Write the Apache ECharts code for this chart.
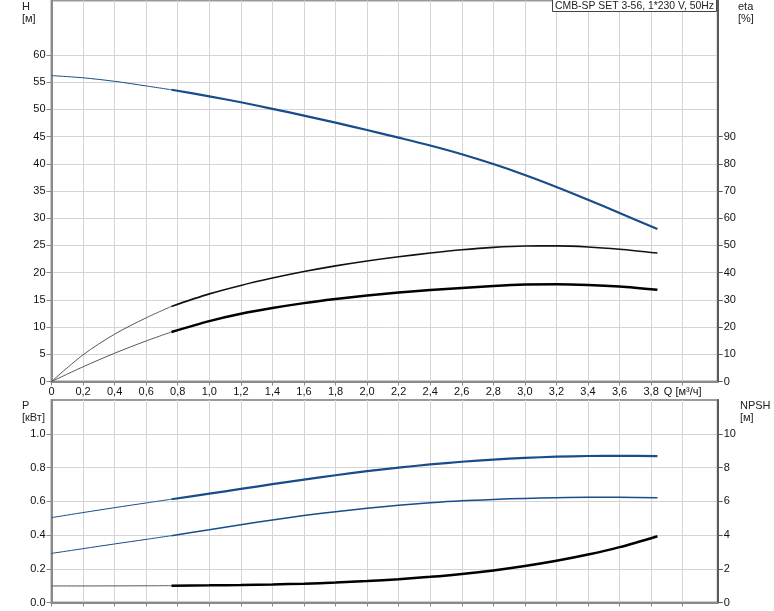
<!DOCTYPE html>
<html>
<head>
<meta charset="utf-8">
<script src="https://cdn.jsdelivr.net/npm/echarts@6/dist/echarts.min.js"></script>
<style>
html,body{margin:0;padding:0;background:#fff;}
#c{width:774px;height:611px;}
</style>
</head>
<body>
<div id="c"></div>
<script>
// ---- data ----
const Q     = [0, 0.2, 0.4, 0.6, 0.76, 1.0, 1.2, 1.4, 1.6, 1.8, 2.0, 2.2, 2.4, 2.6, 2.8, 3.0, 3.2, 3.4, 3.6, 3.84];
const H     = [56.2, 55.8, 55.15, 54.3, 53.6, 52.4, 51.3, 50.1, 48.85, 47.55, 46.2, 44.8, 43.35, 41.75, 39.95, 37.95, 35.75, 33.4, 30.95, 28.0];
const ETA1  = [0, 9.8, 17.4, 23.4, 27.6, 32.2, 35.3, 38.0, 40.4, 42.5, 44.3, 45.85, 47.2, 48.4, 49.3, 49.8, 49.85, 49.45, 48.6, 47.2];
const ETA2  = [0, 5.4, 10.4, 14.9, 18.2, 22.2, 24.9, 27.0, 28.8, 30.3, 31.6, 32.7, 33.6, 34.4, 35.1, 35.6, 35.75, 35.5, 34.9, 33.7];
const P1    = [0.503, 0.533, 0.562, 0.590, 0.612, 0.645, 0.673, 0.701, 0.728, 0.754, 0.778, 0.799, 0.818, 0.834, 0.847, 0.857, 0.864, 0.868, 0.869, 0.867];
const P2    = [0.291, 0.319, 0.347, 0.374, 0.396, 0.431, 0.461, 0.489, 0.515, 0.538, 0.558, 0.576, 0.591, 0.603, 0.611, 0.617, 0.621, 0.623, 0.623, 0.621];
const NPSH  = [0.98, 0.98, 0.985, 0.99, 1.0, 1.015, 1.035, 1.07, 1.115, 1.18, 1.27, 1.38, 1.52, 1.69, 1.90, 2.16, 2.47, 2.84, 3.28, 3.93];
const SPLIT = 4; // index where the operating range (thick line) starts
const Q_TICKS    = [0, 0.2, 0.4, 0.6, 0.8, 1.0, 1.2, 1.4, 1.6, 1.8, 2.0, 2.2, 2.4, 2.6, 2.8, 3.0, 3.2, 3.4, 3.6, 3.8, 4.0];
const H_TICKS    = [0, 5, 10, 15, 20, 25, 30, 35, 40, 45, 50, 55, 60];
const ETA_TICKS  = [0, 10, 20, 30, 40, 50, 60, 70, 80, 90];
const P_TICKS    = [0, 0.2, 0.4, 0.6, 0.8, 1.0];
const NPSH_TICKS = [0, 2, 4, 6, 8, 10];
const TITLE = 'CMB-SP SET 3-56, 1*230 V, 50Hz';
const Q_LABEL = 'Q [м³/ч]';

// ---- helpers ----
function pts(vals, from, to, lastLabel) {
  const out = [];
  for (let i = from; i <= to; i++) out.push([Q[i], vals[i]]);
  if (lastLabel) {
    const last = out.pop();
    out.push({ value: last, label: lastLabel });
  }
  return out;
}
const N = Q.length - 1;
const FONT = 'Liberation Sans, Arial, sans-serif';
const BLUE = '#164d8a';
const GRIDC = '#d4d4d4';

function xAxis(gi, showLabels) {
  return {
    type: 'value', gridIndex: gi, min: 0, max: 4.222, interval: 0.2,
    axisLine: { show: true, onZero: false, lineStyle: { color: '#8a8a8a', width: 2 } },
    axisTick: { show: true, length: 4, customValues: Q_TICKS, lineStyle: { color: '#8a8a8a' } },
    axisLabel: {
      show: showLabels, margin: 5, customValues: Q_TICKS, color: '#111', fontSize: 11, fontFamily: FONT,
      formatter: v => {
        if (Math.abs(v - 4.0) < 1e-6) return Q_LABEL;
        return v === 0 ? '0' : v.toFixed(1).replace('.', ',');
      }
    },
    splitLine: { show: true, lineStyle: { color: GRIDC, width: 1 } }
  };
}
function yAxis(gi, pos, min, max, interval, ticks, fmt, split, lineColor) {
  return {
    type: 'value', gridIndex: gi, position: pos, min, max, interval,
    axisLine: { show: true, onZero: false, lineStyle: { color: lineColor, width: 2 } },
    axisTick: { show: true, length: 5, customValues: ticks, lineStyle: { color: lineColor } },
    axisLabel: {
      margin: 6, color: '#111', fontSize: 11, fontFamily: FONT, customValues: ticks,
      formatter: v => fmt(v)
    },
    splitLine: { show: split, lineStyle: { color: GRIDC, width: 1 } }
  };
}
function line(xi, yi, data, color, width, z) {
  return {
    type: 'line', xAxisIndex: xi, yAxisIndex: yi, data, smooth: 0.3,
    showSymbol: false, symbol: 'none', silent: true, z: z || 3,
    lineStyle: { color, width }, animation: false
  };
}

const txt = (s, x, y, align) => ({
  type: 'text', left: x, top: y,
  style: { text: s, fill: '#222', font: '11px ' + FONT, textAlign: align || 'center' }
});

const chart = echarts.init(document.getElementById('c'), null, { renderer: 'canvas' });
chart.setOption({
  animation: false,
  backgroundColor: '#fff',
  title: {
    text: TITLE, right: 57, top: -1, padding: [2, 3, 1, 3],
    borderWidth: 1, borderColor: '#444', backgroundColor: '#fff',
    textStyle: { fontSize: 10.4, fontWeight: 'normal', color: '#222', fontFamily: FONT }
  },
  grid: [
    { left: 51.5, right: 56.3, top: 0.5, height: 381, show: true, borderColor: '#9a9a9a', borderWidth: 2 },
    { left: 51.5, right: 56.3, top: 400, height: 202.5, show: true, borderColor: '#9a9a9a', borderWidth: 2 }
  ],
  xAxis: [xAxis(0, true), xAxis(1, false)],
  yAxis: [
    yAxis(0, 'left', 0, 70, 5, H_TICKS, v => String(v), true, '#8a8a8a'),
    yAxis(0, 'right', 0, 140, 10, ETA_TICKS, v => String(v), false, '#5a5a5a'),
    yAxis(1, 'left', 0, 1.2, 0.2, P_TICKS, v => v.toFixed(1), true, '#8a8a8a'),
    yAxis(1, 'right', 0, 12, 2, NPSH_TICKS, v => String(v), false, '#5a5a5a')
  ],
  graphic: [
    txt('H', 22, 1), txt('[м]', 22, 13),
    txt('eta', 738, 1), txt('[%]', 738, 13),
    txt('P', 22, 400), txt('[кВт]', 22, 412),
    txt('NPSH', 740, 400), txt('[м]', 740, 412)
  ],
  series: [
    line(0, 0, pts(H, 0, SPLIT), BLUE, 1),
    line(0, 0, pts(H, SPLIT, N), BLUE, 2.2),
    line(0, 1, pts(ETA1, 0, SPLIT), '#444', 0.9),
    line(0, 1, pts(ETA1, SPLIT, N), '#111', 1.6),
    line(0, 1, pts(ETA2, 0, SPLIT), '#444', 0.9),
    line(0, 1, pts(ETA2, SPLIT, N), '#000', 2.5),
    line(1, 2, pts(P1, 0, SPLIT), BLUE, 1),
    line(1, 2, pts(P1, SPLIT, N, { show: true, position: 'top', distance: 0, formatter: 'P1', color: BLUE, fontSize: 11, fontFamily: FONT }), BLUE, 2.2),
    line(1, 2, pts(P2, 0, SPLIT), BLUE, 1),
    line(1, 2, pts(P2, SPLIT, N, { show: true, position: 'bottom', distance: 3, formatter: 'P2', color: BLUE, fontSize: 11, fontFamily: FONT }), BLUE, 1.5),
    line(1, 3, pts(NPSH, 0, SPLIT), '#555', 1),
    line(1, 3, pts(NPSH, SPLIT, N), '#000', 2.5)
  ]
});
</script>
</body>
</html>
